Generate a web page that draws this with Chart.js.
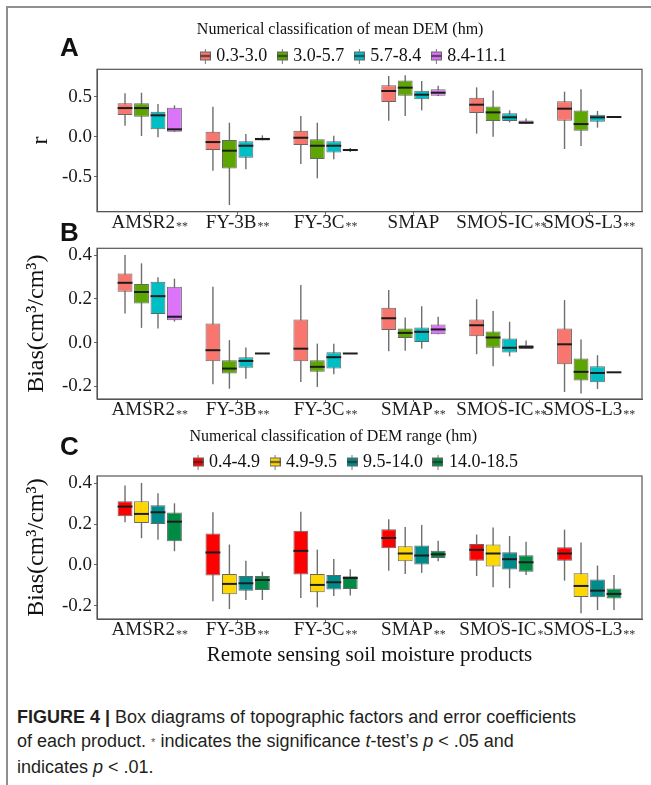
<!DOCTYPE html>
<html>
<head>
<meta charset="utf-8">
<title>Figure 4</title>
<script src="https://cdn.jsdelivr.net/npm/chart.js@4.4.1/dist/chart.umd.min.js"></script>
<style>
html, body { margin:0; padding:0; background:#fff; overflow:hidden; }
#page { position:relative; width:651px; height:785px; overflow:hidden; background:#fff; }
#frame { position:absolute; left:6px; top:6px; width:700px; height:800px; border-left:2px solid #8f8f8f; border-top:2px solid #8f8f8f; }
canvas { position:absolute; left:0; }
.letter { position:absolute; left:60px; font:bold 26px/26px "Liberation Sans", Arial, sans-serif; color:#111; }
#caption { position:absolute; left:17px; top:705px; font:18px/24px "Liberation Sans", Arial, sans-serif; color:#231f20; white-space:nowrap; }
#caption .ast { font-size:11px; position:relative; top:-1px; color:#555; }
</style>
</head>
<body>
<div id="page">
  <div id="frame"></div>
  <canvas id="chartA" width="700" height="232" style="top:0px"></canvas>
  <canvas id="chartB" width="651" height="188" style="top:232px"></canvas>
  <canvas id="chartC" width="700" height="270" style="top:410px"></canvas>
  <div class="letter" style="top:34px">A</div>
  <div class="letter" style="top:219px">B</div>
  <div class="letter" style="top:433px">C</div>
  <div id="caption"><b>FIGURE 4 |</b> Box diagrams of topographic factors and error coefficients<br>of each product. <span class="ast">*</span> indicates the significance <i>t</i>-test’s <i>p</i> &lt; .05 and<br>indicates <i>p</i> &lt; .01.</div>
</div>
<script>
// ---------- data ----------
const categories = ['AMSR2', 'FY-3B', 'FY-3C', 'SMAP', 'SMOS-IC', 'SMOS-L3'];
const marksA = ['**', '**', '**', '', '**', '**'];
const marksB = ['**', '**', '**', '**', '**', '**'];
const marksC = ['**', '**', '**', '**', '*', '**'];
const meanDemClasses = ['0.3-3.0', '3.0-5.7', '5.7-8.4', '8.4-11.1'];
const rangeDemClasses = ['0.4-4.9', '4.9-9.5', '9.5-14.0', '14.0-18.5'];
const yTicksA = [-0.5, 0, 0.5];
const yTickLabelsA = ['-0.5', '0.0', '0.5'];
const yTicksBC = [-0.2, 0, 0.2, 0.4];
const yTickLabelsBC = ['-0.2', '0.0', '0.2', '0.4'];

// each entry per product: [lower whisker, Q1, median, Q3, upper whisker]
// Panel A: r by mean DEM class
const rMean1 = [[0.138, 0.271, 0.358, 0.417, 0.542], [-0.425, -0.167, -0.067, 0.063, 0.375], [-0.342, -0.104, -0.013, 0.075, 0.258], [0.200, 0.433, 0.571, 0.642, 0.758], [0.038, 0.296, 0.400, 0.488, 0.617], [-0.154, 0.200, 0.350, 0.442, 0.563]];
const rMean2 = [[0.008, 0.250, 0.358, 0.417, 0.550], [-0.854, -0.396, -0.175, -0.042, 0.175], [-0.520, -0.279, -0.113, -0.033, 0.175], [0.258, 0.513, 0.613, 0.704, 0.767], [0.000, 0.196, 0.304, 0.379, 0.579], [-0.117, 0.075, 0.158, 0.329, 0.592]];
const rMean3 = [[-0.008, 0.092, 0.267, 0.313, 0.408], [-0.408, -0.263, -0.113, -0.058, 0.033], [-0.283, -0.196, -0.113, -0.058, 0.013], [0.329, 0.467, 0.525, 0.575, 0.696], [0.179, 0.196, 0.242, 0.292, 0.329], [0.113, 0.188, 0.242, 0.275, 0.321]];
const rMean4 = [[0.060, 0.063, 0.092, 0.363, 0.392], [-0.046, -0.046, -0.029, -0.013, 0.017], [-0.190, -0.183, -0.166, -0.154, -0.140], [0.510, 0.513, 0.550, 0.592, 0.638], [0.163, 0.163, 0.175, 0.204, 0.229], [0.246, 0.246, 0.246, 0.246, 0.246]];
// Panel B: Bias by mean DEM class
const biasMean1 = [[0.133, 0.232, 0.273, 0.316, 0.400], [-0.191, -0.086, -0.035, 0.087, 0.255], [-0.180, -0.086, -0.028, 0.105, 0.263], [-0.040, 0.057, 0.111, 0.159, 0.240], [-0.053, 0.029, 0.079, 0.105, 0.198], [-0.226, -0.099, -0.008, 0.064, 0.194]];
const biasMean2 = [[0.067, 0.179, 0.231, 0.267, 0.362], [-0.211, -0.142, -0.119, -0.081, 0.011], [-0.203, -0.134, -0.111, -0.081, -0.005], [-0.038, 0.021, 0.044, 0.064, 0.115], [-0.108, -0.024, 0.023, 0.050, 0.144], [-0.233, -0.173, -0.134, -0.073, 0.014]];
const biasMean3 = [[0.064, 0.130, 0.212, 0.278, 0.298], [-0.166, -0.115, -0.084, -0.067, -0.023], [-0.145, -0.119, -0.067, -0.044, -0.005], [-0.028, 0.002, 0.049, 0.069, 0.166], [-0.063, -0.046, -0.024, 0.018, 0.095], [-0.212, -0.182, -0.139, -0.108, -0.058]];
const biasMean4 = [[0.096, 0.102, 0.118, 0.255, 0.292], [-0.050, -0.050, -0.050, -0.050, -0.050], [-0.050, -0.050, -0.050, -0.050, -0.050], [0.038, 0.038, 0.060, 0.082, 0.118], [-0.029, -0.029, -0.020, -0.012, 0.009], [-0.136, -0.136, -0.136, -0.136, -0.136]];
// Panel C: Bias by DEM range class
const biasRange1 = [[0.209, 0.239, 0.286, 0.312, 0.389], [-0.178, -0.052, 0.061, 0.154, 0.258], [-0.162, -0.047, 0.069, 0.167, 0.261], [-0.028, 0.082, 0.132, 0.175, 0.224], [-0.054, 0.020, 0.074, 0.103, 0.149], [-0.077, 0.020, 0.056, 0.087, 0.173]];
const biasRange2 = [[0.131, 0.206, 0.250, 0.312, 0.402], [-0.216, -0.144, -0.093, -0.044, 0.100], [-0.208, -0.134, -0.098, -0.044, 0.075], [-0.044, 0.018, 0.056, 0.092, 0.186], [-0.110, -0.008, 0.056, 0.100, 0.183], [-0.237, -0.157, -0.103, -0.041, 0.110]];
const biasRange3 = [[0.123, 0.201, 0.258, 0.292, 0.351], [-0.172, -0.126, -0.090, -0.054, 0.021], [-0.152, -0.121, -0.085, -0.049, 0.029], [-0.039, 0.000, 0.046, 0.095, 0.196], [-0.114, -0.023, 0.028, 0.062, 0.142], [-0.221, -0.159, -0.126, -0.072, -0.003]];
const biasRange4 = [[0.067, 0.116, 0.212, 0.257, 0.302], [-0.172, -0.123, -0.074, -0.054, -0.033], [-0.150, -0.118, -0.064, -0.056, -0.021], [0.018, 0.034, 0.052, 0.070, 0.118], [-0.049, -0.034, 0.013, 0.047, 0.114], [-0.221, -0.165, -0.142, -0.116, -0.049]];

const colorsMean = ['#F8766D', '#5DA500', '#00BFC4', '#DC74FA'];
const colorsRange = ['#FF0000', '#FFD700', '#008B8B', '#008B45'];

// ---------- drawing helpers ----------
const SERIF = "'Liberation Serif', 'Times New Roman', Times, serif";

function glyph(color) {
  const c = document.createElement('canvas');
  c.width = 11; c.height = 15;
  const g = c.getContext('2d');
  g.strokeStyle = '#777'; g.lineWidth = 1;
  g.beginPath(); g.moveTo(5.5, 0); g.lineTo(5.5, 15); g.stroke();
  g.fillStyle = color; g.fillRect(0.5, 3.5, 10, 8);
  g.strokeStyle = '#666'; g.strokeRect(0.5, 3.5, 10, 8);
  g.strokeStyle = '#222'; g.lineWidth = 1.5;
  g.beginPath(); g.moveTo(0.5, 7.5); g.lineTo(10.5, 7.5); g.stroke();
  return c;
}

function makeBoxPlugin(marks) {
  return {
    id: 'boxParts',
    beforeDatasetsDraw(chart) {
      const y = chart.scales.y, ctx = chart.ctx;
      ctx.save();
      ctx.strokeStyle = '#6e6e6e'; ctx.lineWidth = 1.4;
      chart.data.datasets.forEach((ds, di) => {
        chart.getDatasetMeta(di).data.forEach((el, i) => {
          const s = ds.stats[i];
          ctx.beginPath();
          ctx.moveTo(el.x, y.getPixelForValue(s[0]));
          ctx.lineTo(el.x, y.getPixelForValue(s[4]));
          ctx.stroke();
        });
      });
      ctx.restore();
    },
    afterDatasetsDraw(chart) {
      const y = chart.scales.y, ctx = chart.ctx, a = chart.chartArea;
      ctx.save();
      ctx.strokeStyle = '#1c1c1c'; ctx.lineWidth = 2;
      chart.data.datasets.forEach((ds, di) => {
        chart.getDatasetMeta(di).data.forEach((el, i) => {
          const yy = y.getPixelForValue(ds.stats[i][2]);
          ctx.beginPath();
          ctx.moveTo(el.x - el.width / 2, yy);
          ctx.lineTo(el.x + el.width / 2, yy);
          ctx.stroke();
        });
      });
      ctx.strokeStyle = '#555'; ctx.lineWidth = 1.2;
      ctx.strokeRect(a.left, a.top, a.right - a.left, a.bottom - a.top);
      ctx.restore();
    },
    afterDraw(chart) {
      const xs = chart.scales.x, ctx = chart.ctx, base = chart.chartArea.bottom + 16;
      ctx.save();
      ctx.textBaseline = 'alphabetic'; ctx.textAlign = 'left';
      categories.forEach((c, i) => {
        const xc = xs.getPixelForValue(i + 1);
        ctx.font = '19px ' + SERIF;
        const w1 = ctx.measureText(c).width;
        const m = marks[i];
        ctx.font = '12px ' + SERIF;
        const w2 = m ? ctx.measureText(m).width + 1 : 0;
        const x0 = xc - (w1 + w2) / 2;
        ctx.font = '19px ' + SERIF; ctx.fillStyle = '#1a1a1a';
        ctx.fillText(c, x0, base);
        if (m) {
          ctx.font = '12px ' + SERIF; ctx.fillStyle = '#333';
          ctx.fillText(m, x0 + w1 + 1, base + 2.5);
        }
      });
      ctx.restore();
    }
  };
}

function makeLegendTrim(trim) {
  return {
    id: 'legendTrim',
    beforeLayout(chart) {
      const lg = chart.legend;
      if (lg && !lg.$trimmed) {
        const fit = lg.fit;
        lg.fit = function () { fit.call(this); this.height -= trim; };
        lg.$trimmed = true;
      }
    }
  };
}

function makeChart(id, cfg) {
  const datasets = cfg.series.map((s, k) => ({
    label: cfg.names[k],
    data: s.map((v, i) => ({ x: i + 1, y: [v[1], v[3]] })),
    stats: s,
    backgroundColor: cfg.colors[k],
    borderColor: '#666',
    borderWidth: 1,
    borderSkipped: false,
    categoryPercentage: 0.75,
    barPercentage: 0.9
  }));
  const scales = {
    x: {
      type: 'linear', min: 0.4, max: 6.6, offset: false,
      afterBuildTicks: ax => { ax.ticks = categories.map((c, i) => ({ value: i + 1 })); },
      ticks: { display: false },
      grid: { display: true, offset: false, drawOnChartArea: false, drawTicks: true, tickLength: 3, color: '#666', tickColor: '#666' },
      border: { display: true, color: '#555' },
      title: cfg.xTitle ? { display: true, text: cfg.xTitle, color: '#111', font: { family: SERIF, size: 21 }, padding: { top: 0, bottom: cfg.xTitlePad } } : { display: false },
      afterFit: ax => { ax.height = cfg.xHeight; }
    },
    y: {
      type: 'linear', position: 'left', min: cfg.yMin, max: cfg.yMax,
      afterBuildTicks: ax => { ax.ticks = cfg.yTicks.map(v => ({ value: v })); },
      ticks: { callback: (v, i) => cfg.yLabels[i], color: '#1a1a1a', font: { family: SERIF, size: 19 }, padding: 2 },
      grid: { display: true, drawOnChartArea: false, drawTicks: true, tickLength: 3, color: '#666', tickColor: '#666' },
      border: { display: true, color: '#555' },
      title: { display: true, text: cfg.yTitle, color: '#111', font: { family: SERIF, size: 24 }, padding: { top: cfg.yTitlePad, bottom: 0 } },
      afterFit: ax => { ax.width = cfg.yWidth; }
    }
  };
  if (cfg.rightGap) {
    scales.y2 = {
      type: 'linear', position: 'right', display: true,
      grid: { display: false, drawTicks: false }, ticks: { display: false }, border: { display: false },
      afterFit: ax => { ax.width = cfg.rightGap; }
    };
  }
  const plugins = [makeBoxPlugin(cfg.marks)];
  let legend = { display: false };
  if (cfg.legendTitle) {
    plugins.push(makeLegendTrim(cfg.trim));
    legend = {
      display: true, position: 'top', align: 'center',
      title: { display: true, text: cfg.legendTitle, position: 'start', color: '#111', font: { family: SERIF, size: 16 }, padding: { top: 0, bottom: cfg.titleGap } },
      labels: {
        usePointStyle: true, pointStyleWidth: 4, padding: 13, color: '#111',
        font: { family: SERIF, size: 18 },
        generateLabels: chart => chart.data.datasets.map((ds, i) => ({
          text: ds.label, pointStyle: glyph(ds.backgroundColor), fillStyle: ds.backgroundColor,
          strokeStyle: '#666', lineWidth: 0, hidden: false, datasetIndex: i, fontColor: '#111'
        }))
      }
    };
  }
  return new Chart(document.getElementById(id), {
    type: 'bar',
    data: { datasets },
    options: {
      responsive: false, animation: false, devicePixelRatio: 1, events: [],
      layout: { padding: cfg.padding },
      plugins: { legend, tooltip: { enabled: false }, title: { display: false } },
      scales
    },
    plugins
  });
}

makeChart('chartA', {
  series: [rMean1, rMean2, rMean3, rMean4], names: meanDemClasses, colors: colorsMean, marks: marksA,
  yMin: -0.9375, yMax: 0.8425, yTicks: yTicksA, yLabels: yTickLabelsA, yTitle: 'r', yTitlePad: 16.6,
  yWidth: 87, xHeight: 20.3, rightGap: 58,
  padding: { top: 22, left: 10, right: 0, bottom: 0 },
  legendTitle: 'Numerical classification of mean DEM (hm)', titleGap: -7.2, trim: 5.7
});

makeChart('chartB', {
  series: [biasMean1, biasMean2, biasMean3, biasMean4], names: meanDemClasses, colors: colorsMean, marks: marksB,
  yMin: -0.258, yMax: 0.4307, yTicks: yTicksBC, yLabels: yTickLabelsBC, yTitle: 'Bias(cm³/cm³)', yTitlePad: 12.6,
  yWidth: 87, xHeight: 21,
  padding: { top: 16.3, left: 10, right: 9, bottom: 0 }
});

makeChart('chartC', {
  series: [biasRange1, biasRange2, biasRange3, biasRange4], names: rangeDemClasses, colors: colorsRange, marks: marksC,
  yMin: -0.265, yMax: 0.4358, yTicks: yTicksBC, yLabels: yTickLabelsBC, yTitle: 'Bias(cm³/cm³)', yTitlePad: 8.6,
  yWidth: 83, xHeight: 61, rightGap: 58,
  xTitle: 'Remote sensing soil moisture products', xTitlePad: 12.4,
  padding: { top: 19, left: 14, right: 0, bottom: 0 },
  legendTitle: 'Numerical classification of DEM range (hm)', titleGap: -8.2, trim: 5
});
</script>
</body>
</html>
